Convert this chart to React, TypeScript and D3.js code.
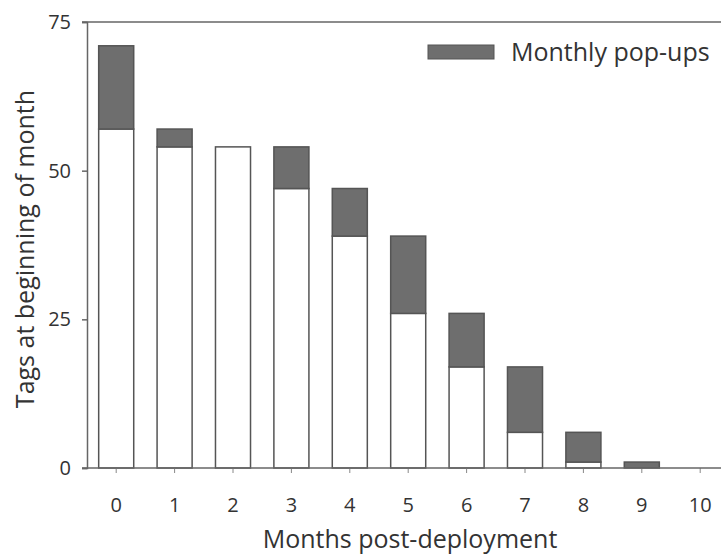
import React, { useEffect, useRef } from 'react';
import * as d3 from 'd3';

const months = ['0', '1', '2', '3', '4', '5', '6', '7', '8', '9', '10'];
const remaining = [57, 54, 54, 47, 39, 26, 17, 6, 1, 0, 0];
const popups = [14, 3, 0, 7, 8, 13, 9, 11, 5, 1, 0];
const yTicks = [0, 25, 50, 75];

const App = () => {
  const svgRef = useRef<SVGSVGElement>(null);

  useEffect(() => {
    const svg = d3.select(svgRef.current);
    svg.selectAll('*').remove();

    const width = 721;
    const height = 556;
    const left = 87;
    const top = 22;
    const bottom = 468;
    const font = "'Open Sans', 'DejaVu Sans', sans-serif";
    const ink = '#333';

    const x = d3.scaleBand().domain(months).range([left, left + 58.4 * 11]).paddingInner(0.4).paddingOuter(0.2);
    const y = d3.scaleLinear().domain([0, 75]).range([bottom, top]);

    svg.attr('width', width).attr('height', height);

    // 柱子：白色为剩余，灰色为弹出
    const g = svg.append('g');
    months.forEach((m, i) => {
      const total = remaining[i] + popups[i];
      if (total === 0) return;
      const bx = x(m)!;
      if (remaining[i] > 0) {
        g.append('rect')
          .attr('x', bx).attr('y', y(remaining[i]))
          .attr('width', x.bandwidth()).attr('height', y(0) - y(remaining[i]))
          .attr('fill', '#fff').attr('stroke', '#555').attr('stroke-width', 1.5);
      }
      if (popups[i] > 0) {
        g.append('rect')
          .attr('x', bx).attr('y', y(total))
          .attr('width', x.bandwidth()).attr('height', y(remaining[i]) - y(total))
          .attr('fill', '#6e6e6e').attr('stroke', '#555').attr('stroke-width', 1.5);
      }
    });

    // y 轴
    const ya = svg.append('g').attr('transform', `translate(${left},0)`)
      .call(d3.axisLeft(y).tickValues(yTicks).tickSize(5).tickPadding(11));
    ya.select('.domain').attr('stroke', '#666').attr('stroke-width', 1.5);
    ya.selectAll('line').attr('stroke', '#666').attr('stroke-width', 1.5);
    ya.selectAll('text').attr('font-family', font).attr('font-size', 20).attr('fill', ink);

    // 顶部边框
    svg.append('line')
      .attr('x1', left - 5).attr('x2', width).attr('y1', y(75)).attr('y2', y(75))
      .attr('stroke', '#666').attr('stroke-width', 1.5);

    // x 轴
    const xa = svg.append('g').attr('transform', `translate(0,${bottom})`)
      .call(d3.axisBottom(x).tickSize(5).tickPadding(25));
    xa.select('.domain').remove();
    svg.append('line')
      .attr('x1', left - 5).attr('x2', width).attr('y1', bottom).attr('y2', bottom)
      .attr('stroke', '#666').attr('stroke-width', 1.5);
    xa.selectAll('line').attr('stroke', '#888').attr('stroke-width', 1);
    xa.selectAll('text').attr('font-family', font).attr('font-size', 20).attr('fill', ink);

    // 轴标题
    svg.append('text')
      .attr('x', 410).attr('y', 548)
      .attr('text-anchor', 'middle')
      .attr('font-family', font).attr('font-size', 25).attr('fill', ink)
      .text('Months post-deployment');
    svg.append('text')
      .attr('transform', `translate(34,249) rotate(-90)`)
      .attr('text-anchor', 'middle')
      .attr('font-family', font).attr('font-size', 25).attr('fill', ink)
      .text('Tags at beginning of month');

    // 图例
    svg.append('rect')
      .attr('x', 428).attr('y', 45).attr('width', 66).attr('height', 14)
      .attr('fill', '#6e6e6e').attr('stroke', '#555').attr('stroke-width', 1);
    svg.append('text')
      .attr('x', 511).attr('y', 61)
      .attr('font-family', font).attr('font-size', 25).attr('fill', ink)
      .text('Monthly pop-ups');
  }, []);

  return <svg ref={svgRef} style={{ position: 'absolute', left: 0, top: 0 }}></svg>;
};

export default App;
